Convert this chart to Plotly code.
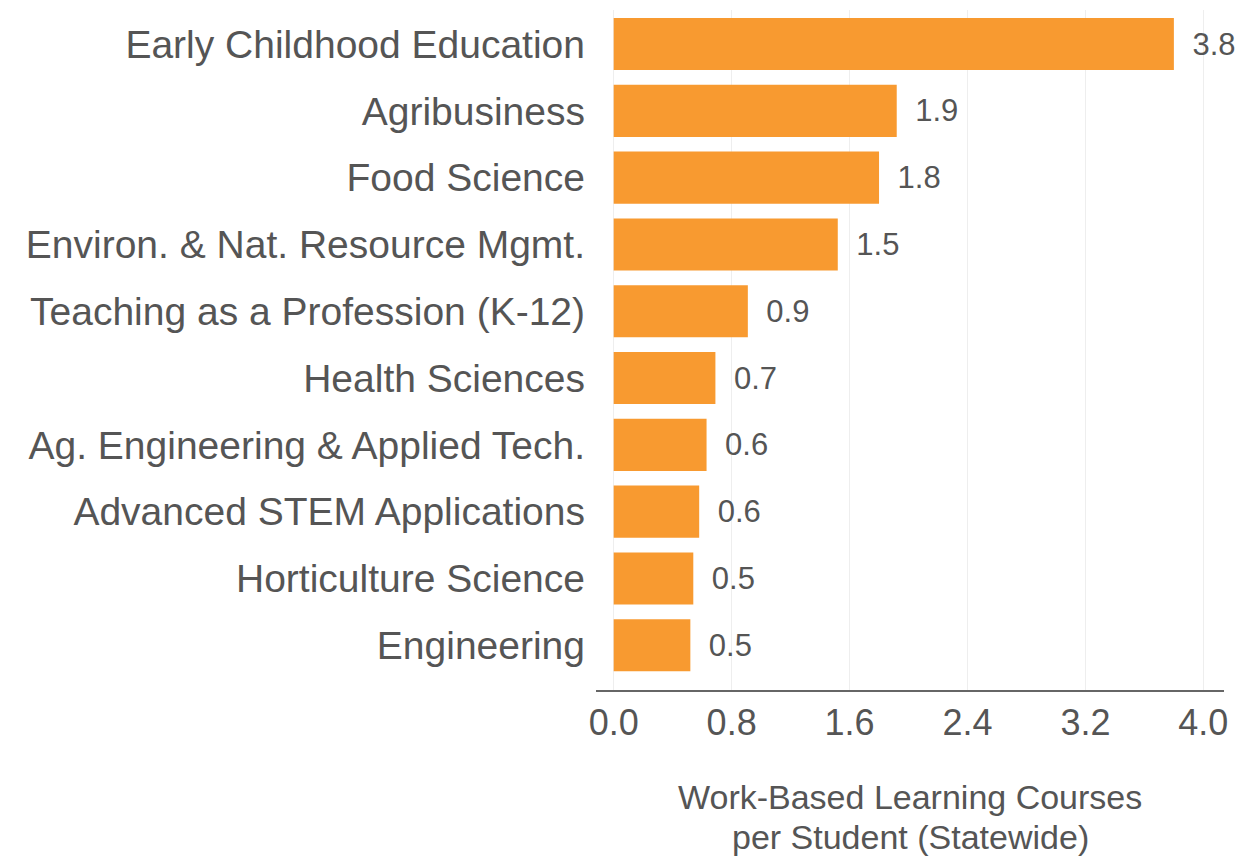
import plotly.graph_objects as go

categories = [
    "Early Childhood Education",
    "Agribusiness",
    "Food Science",
    "Environ. & Nat. Resource Mgmt.",
    "Teaching as a Profession (K-12)",
    "Health Sciences",
    "Ag. Engineering & Applied Tech.",
    "Advanced STEM Applications",
    "Horticulture Science",
    "Engineering",
]
values = [3.80, 1.92, 1.80, 1.52, 0.91, 0.69, 0.63, 0.58, 0.54, 0.52]
value_labels = ["3.8", "1.9", "1.8", "1.5", "0.9", "0.7", "0.6", "0.6", "0.5", "0.5"]
x_ticks = [0.0, 0.8, 1.6, 2.4, 3.2, 4.0]
x_tick_labels = ["0.0", "0.8", "1.6", "2.4", "3.2", "4.0"]
title_lines = ["Work-Based Learning Courses", "per Student (Statewide)"]

FONT = "Liberation Sans, Arial, sans-serif"
GRAY = "#555555"

fig = go.Figure(
    go.Bar(
        x=values,
        y=categories,
        orientation="h",
        marker=dict(color="#F89A30", line=dict(width=0)),
        text=["\u2002" + t for t in value_labels],
        textposition="outside",
        textfont=dict(family=FONT, size=31, color=GRAY),
        cliponaxis=False,
        width=0.78,
    )
)

# Two-line axis title drawn as annotations (tighter line spacing)
for line, ypos in zip(title_lines, [-0.157, -0.216]):
    fig.add_annotation(
        text=line,
        xref="paper",
        yref="paper",
        x=0.5,
        y=ypos,
        xanchor="center",
        yanchor="middle",
        showarrow=False,
        font=dict(family=FONT, size=34, color=GRAY),
    )

fig.update_layout(
    width=1238,
    height=859,
    margin=dict(l=596, r=12, t=10, b=169),
    plot_bgcolor="white",
    paper_bgcolor="white",
    showlegend=False,
    font=dict(family=FONT, color=GRAY),
    xaxis=dict(
        range=[-0.12, 4.14],
        tickvals=x_ticks,
        ticktext=x_tick_labels,
        tickfont=dict(size=36, color=GRAY),
        showgrid=True,
        gridcolor="#EEEEEE",
        gridwidth=1,
        zeroline=False,
        showline=True,
        linecolor="#666666",
        linewidth=2,
        ticks="",
        ticklabelstandoff=0,
    ),
    yaxis=dict(
        range=[9.67, -0.51],
        tickfont=dict(size=39, color=GRAY),
        showgrid=False,
        zeroline=False,
        showline=False,
        ticks="",
        ticklabelstandoff=10,
    ),
)

fig.write_html(
    "out.html",
    config={"displayModeBar": False},
    post_script="document.body.style.margin='0px';",
)
